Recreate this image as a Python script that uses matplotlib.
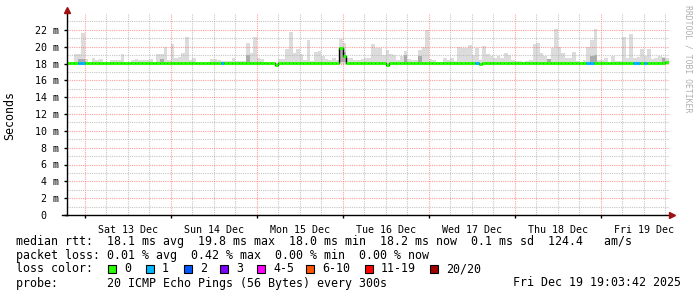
import numpy as np
import matplotlib
matplotlib.use('Agg')
import matplotlib.pyplot as plt
import matplotlib.dates as mdates
from matplotlib.ticker import FixedLocator, NullFormatter
from matplotlib.patches import Rectangle
from datetime import datetime, timedelta

# one value per hour, first bin starts Fri 12 Dec 19:00
first_bin = datetime(2025, 12, 12, 19, 0)
t_start = datetime(2025, 12, 12, 19, 3, 42)
t_end = datetime(2025, 12, 19, 19, 3, 42)

# top of the smoke (ms)
smoke_max = [
    18.2, 18.2, 19.1, 19.1, 21.6, 18.5, 18.1, 18.7, 18.4, 18.5, 18.1, 18.1,
    18.4, 18.4, 18.4, 19.1, 18.1, 18.1, 18.4, 18.5, 18.4, 18.4, 18.4, 18.5,
    18.1, 19.1, 19.1, 20.0, 18.4, 20.3, 18.7, 18.75, 19.2, 21.2, 18.4, 18.7,
    18.1, 18.1, 18.1, 18.1, 18.5, 18.5, 18.4, 18.3, 18.3, 18.3, 18.7, 18.3,
    18.3, 18.3, 20.4, 19.2, 21.2, 18.7, 18.5, 18.1, 18.1, 18.1, 18.1, 18.5,
    18.5, 19.7, 21.7, 19.25, 19.7, 19.1, 18.4, 20.85, 18.3, 19.35, 19.45, 18.9,
    18.5, 18.4, 18.7, 18.4, 20.9, 20.4, 18.7, 18.7, 18.4, 18.4, 18.5, 18.7,
    18.7, 20.3, 19.9, 19.8, 19.05, 19.55, 19.1, 19.0, 18.4, 18.9, 19.5, 18.5,
    18.4, 18.4, 19.55, 19.95, 21.95, 18.5, 18.4, 18.1, 18.1, 18.6, 18.4, 18.6,
    18.3, 19.95, 19.8, 19.8, 20.2, 19.0, 19.8, 18.4, 20.05, 19.1, 18.9, 18.7,
    18.9, 18.7, 19.3, 19.0, 18.4, 18.3, 18.3, 18.1, 18.3, 18.4, 20.3, 20.4,
    19.2, 18.9, 18.5, 19.8, 22.05, 20.0, 19.2, 18.7, 18.7, 19.4, 18.3, 18.1,
    18.4, 20.0, 20.85, 22.05, 18.4, 18.4, 18.7, 18.1, 18.85, 18.3, 18.3, 21.15,
    18.7, 21.45, 18.7, 18.8, 19.7, 18.9, 19.7, 18.5, 18.7, 18.85, 18.8, 18.7,
]

# median rtt (ms)
median = [
    18.1, 18.1, 18.1, 18.1, 18.1, 18.1, 18.1, 18.1, 18.1, 18.1, 18.1, 18.1,
    18.1, 18.1, 18.1, 18.1, 18.1, 18.1, 18.1, 18.1, 18.1, 18.1, 18.1, 18.1,
    18.1, 18.1, 18.1, 18.1, 18.1, 18.1, 18.1, 18.1, 18.1, 18.1, 18.1, 18.1,
    18.1, 18.1, 18.1, 18.1, 18.1, 18.1, 18.1, 18.1, 18.1, 18.1, 18.1, 18.1,
    18.1, 18.1, 18.1, 18.1, 18.1, 18.1, 18.1, 18.1, 18.1, 18.1, 17.85, 18.1,
    18.1, 18.1, 18.1, 18.1, 18.1, 18.1, 18.1, 18.1, 18.1, 18.1, 18.1, 18.1,
    18.1, 18.1, 18.1, 18.1, 19.8, 18.95, 18.1, 18.1, 18.1, 18.1, 18.1, 18.1,
    18.1, 18.1, 18.1, 18.1, 18.1, 17.85, 18.1, 18.1, 18.1, 18.1, 18.1, 18.1,
    18.1, 18.1, 18.1, 18.1, 18.1, 18.1, 18.1, 18.1, 18.1, 18.1, 18.1, 18.1,
    18.1, 18.1, 18.1, 18.1, 18.1, 18.1, 18.1, 17.95, 18.1, 18.1, 18.1, 18.1,
    18.1, 18.1, 18.1, 18.1, 18.1, 18.1, 18.1, 18.1, 18.1, 18.1, 18.1, 18.1,
    18.1, 18.1, 18.1, 18.1, 18.1, 18.1, 18.1, 18.1, 18.1, 18.1, 18.1, 18.1,
    18.1, 18.1, 18.1, 18.1, 18.1, 18.1, 18.1, 18.1, 18.1, 18.1, 18.1, 18.1,
    18.1, 18.1, 18.1, 18.1, 18.1, 18.1, 18.1, 18.1, 18.1, 18.1, 18.1, 18.15,
]

# bins with lost pings (index into the lists above) and how many were lost
loss_bins = [3, 4, 43, 114, 145, 146, 158, 159, 161]
loss_count = [1, 1, 1, 1, 1, 1, 1, 1, 1]

# bins with denser (darker) smoke
dark_bins = [3, 4, 26, 50, 76, 77, 94, 98, 134, 146, 147, 166]
dark_top = [18.5, 18.5, 18.5, 19.0, 19.6, 19.4, 19.0, 18.9, 18.5, 18.9, 19.0, 18.6]

day_noons = [datetime(2025, 12, d, 12) for d in range(13, 20)]
day_labels = ['Sat 13 Dec', 'Sun 14 Dec', 'Mon 15 Dec', 'Tue 16 Dec',
              'Wed 17 Dec', 'Thu 18 Dec', 'Fri 19 Dec']
y_ticks = [0, 2, 4, 6, 8, 10, 12, 14, 16, 18, 20, 22]
y_labels = ['0  ', '2 m', '4 m', '6 m', '8 m', '10 m', '12 m', '14 m',
            '16 m', '18 m', '20 m', '22 m']

loss_names = ['0', '1', '2', '3', '4-5', '6-10', '11-19', '20/20']
loss_colors = ['#26ff00', '#00b8ff', '#0059ff', '#7e00ff', '#ff00ff',
               '#ff5500', '#ff0000', '#a00000']

rtt_line = 'median rtt:  18.1 ms avg  19.8 ms max  18.0 ms min  18.2 ms now  0.1 ms sd  124.4   am/s'
loss_line = 'packet loss: 0.01 % avg  0.42 % max  0.00 % min  0.00 % now'
probe_line = 'probe:       20 ICMP Echo Pings (56 Bytes) every 300s'
stamp = 'Fri Dec 19 19:03:42 2025'

MONO = 'DejaVu Sans Mono'
W, H = 697, 297


def loss_index(n):
    if n <= 3:
        return n
    if n <= 5:
        return 4
    if n <= 10:
        return 5
    if n <= 19:
        return 6
    return 7


def px(x, y):
    return x / W, 1 - y / H


fig = plt.figure(figsize=(W / 100, H / 100), dpi=100)
ax = fig.add_axes([67 / W, 1 - 215 / H, 602 / W, 202 / H])

x = mdates.date2num([first_bin + timedelta(hours=i) for i in range(len(smoke_max))])
bw = 1 / 24
smoke_max = np.array(smoke_max)
median = np.array(median)

# smoke
ax.bar(x, smoke_max - 18.0, bottom=18.0, width=bw, align='edge',
       color='#dcdcdc', lw=0, zorder=1)
ax.bar(x[dark_bins], np.array(dark_top) - 18.2, bottom=18.2, width=bw,
       align='edge', color='#ababab', lw=0, zorder=1.2)

# median: thin black steps, thick loss coloured segments on top
ax.stairs(median, np.append(x, x[-1] + bw), baseline=None, color='black',
          lw=1, zorder=3)
cols = [loss_colors[0]] * len(median)
for b, n in zip(loss_bins, loss_count):
    cols[b] = loss_colors[loss_index(n)]
ax.hlines(median, x, x + bw, colors=cols, lw=2.2, zorder=4)

ax.set_xlim(mdates.date2num(t_start), mdates.date2num(t_end))
ax.set_ylim(0, 24)

ax.xaxis.set_major_locator(mdates.DayLocator())
ax.xaxis.set_minor_locator(mdates.HourLocator(byhour=[6, 12, 18]))
ax.xaxis.set_major_formatter(NullFormatter())
ax.set_yticks(y_ticks, y_labels)
ax.yaxis.set_minor_locator(FixedLocator(np.arange(1, 24, 2)))

ax.set_axisbelow(False)
ax.grid(which='major', color='#ff5f5f', alpha=0.6, ls=(0, (1, 1)), lw=0.8)
ax.grid(which='minor', color='#b8b8b8', alpha=0.8, ls=(0, (1, 1)), lw=0.8)

for s in ['top', 'right']:
    ax.spines[s].set_visible(False)
for s in ['left', 'bottom']:
    ax.spines[s].set_color('black')
    ax.spines[s].set_linewidth(1)
    ax.spines[s].set_zorder(5)

ax.tick_params(which='major', length=2, width=1, color='black', pad=4)
ax.tick_params(which='minor', length=0)
ax.tick_params(axis='y', labelsize=7.2)
for lab in ax.get_yticklabels():
    lab.set_fontfamily(MONO)

for d, lab in zip(day_noons, day_labels):
    ax.text(mdates.date2num(d), -18 / 202, lab, transform=ax.get_xaxis_transform(),
            ha='center', va='baseline', fontfamily=MONO, fontsize=7.2)

# axis arrows
ax.plot([-5 / 602, 0], [0, 0], transform=ax.transAxes, color='black', lw=1,
        clip_on=False)
ax.plot([0], [1 + 3 / 202], transform=ax.transAxes, marker='^', ms=5,
        color='#a01010', clip_on=False, zorder=6)
ax.plot([1 + 3 / 602], [0], transform=ax.transAxes, marker='>', ms=5,
        color='#a01010', clip_on=False, zorder=6)

fig.text(*px(10, 115), 'Seconds', rotation=90, ha='center', va='center',
         fontfamily=MONO, fontsize=8.4)
fig.text(*px(688, 5), 'RRDTOOL / TOBI OETIKER', rotation=270, ha='center',
         va='top', color='#b0b0b0', fontfamily=MONO, fontsize=5.9)

fig.text(*px(16, 244.5), rtt_line, fontfamily=MONO, fontsize=8.4, va='baseline')
fig.text(*px(16, 258.5), loss_line, fontfamily=MONO, fontsize=8.4, va='baseline')
fig.text(*px(16, 272.5), 'loss color:', fontfamily=MONO, fontsize=8.4, va='baseline')
box_x = [108, 146, 184, 220, 257, 306, 365, 430]
for bx, name, c in zip(box_x, loss_names, loss_colors):
    fig.add_artist(Rectangle(px(bx, 272.5), 8 / W, 8 / H, transform=fig.transFigure,
                             facecolor=c, edgecolor='black', lw=0.8))
    fig.text(*px(bx + 16, 272.5), name, fontfamily=MONO, fontsize=8.4, va='baseline')
fig.text(*px(16, 286.5), probe_line, fontfamily=MONO, fontsize=8.4, va='baseline')
fig.text(*px(681, 286.5), stamp, fontfamily=MONO, fontsize=8.4, va='baseline',
         ha='right')

fig.savefig('out.png', dpi=100)
